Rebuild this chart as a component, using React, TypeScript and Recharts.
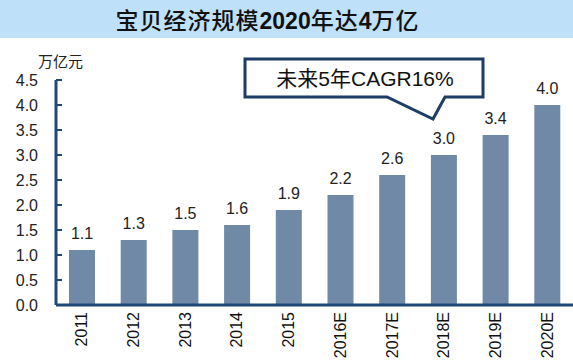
import { BarChart, Bar, XAxis, YAxis, LabelList } from "recharts";

const years = ["2011", "2012", "2013", "2014", "2015", "2016E", "2017E", "2018E", "2019E", "2020E"];
const scale = [1.1, 1.3, 1.5, 1.6, 1.9, 2.2, 2.6, 3.0, 3.4, 4.0];
const yTicks = [0, 0.5, 1, 1.5, 2, 2.5, 3, 3.5, 4, 4.5];

const data = years.map((y, i) => ({ name: y, value: scale[i] }));

const AXIS = "#1f4a78";
const FONT = "Arial, 'Liberation Sans', 'Noto Sans CJK SC', sans-serif";

const YTick = ({ x, y, payload }: any) => (
  <g>
    <line x1={x} x2={x + 6} y1={y} y2={y} stroke={AXIS} strokeWidth={2} />
    <text x={x - 18} y={y} dy={6} textAnchor="end" fontSize={16} fill="#222" fontFamily={FONT}>
      {payload.value.toFixed(1)}
    </text>
  </g>
);

const XTick = ({ x, y, payload }: any) => {
  const ty = y + 7;
  return (
    <text
      x={x}
      y={ty}
      transform={`rotate(-90 ${x} ${ty})`}
      textAnchor="end"
      dominantBaseline="central"
      fontSize={16}
      fill="#111"
      fontFamily={FONT}
    >
      {payload.value}
    </text>
  );
};

export default function App() {
  return (
    <div style={{ position: "absolute", left: 0, top: 0, width: 573, height: 362, background: "#fff", overflow: "hidden" }}>
      <div
        style={{
          position: "absolute",
          left: 0,
          top: 0,
          width: 535,
          height: 38,
          background: "#bee0f8",
          textAlign: "center",
          lineHeight: "38px",
          fontSize: 23,
          fontWeight: 500,
          fontFamily: "'Noto Sans CJK SC', sans-serif",
          color: "#111",
          letterSpacing: 1,
          paddingRight: 38,
        }}
      >
        宝贝经济规模<b style={{ fontFamily: "Arial, 'Liberation Sans', sans-serif", letterSpacing: 0 }}>2020</b>年达
        <b style={{ fontFamily: "Arial, 'Liberation Sans', sans-serif", letterSpacing: 0 }}>4</b>万亿
      </div>
      <div
        style={{
          position: "absolute",
          left: 38,
          top: 50,
          fontSize: 15,
          color: "#222",
          fontFamily: "'Noto Sans CJK SC', sans-serif",
        }}
      >
        万亿元
      </div>
      <BarChart
        width={573}
        height={362}
        data={data}
        margin={{ top: 80, right: 0, bottom: 0, left: 0 }}
        style={{ position: "absolute", left: 0, top: 0 }}
      >
        <YAxis
          type="number"
          domain={[0, 4.5]}
          ticks={yTicks}
          width={56}
          tickSize={0}
          tickMargin={0}
          tickLine={false}
          axisLine={{ stroke: AXIS, strokeWidth: 3 }}
          tick={<YTick />}
          interval={0}
        />
        <XAxis
          dataKey="name"
          height={57}
          tickLine={false}
          tickSize={0}
          tickMargin={0}
          axisLine={{ stroke: AXIS, strokeWidth: 3 }}
          tick={<XTick />}
          interval={0}
        />
        <Bar dataKey="value" fill="#7089a6" barSize={26} isAnimationActive={false}>
          <LabelList
            dataKey="value"
            position="top"
            offset={11}
            fontSize={16}
            fill="#222"
            fontFamily={FONT}
            formatter={(v: any) => Number(v).toFixed(1)}
          />
        </Bar>
      </BarChart>
      <svg width={573} height={362} style={{ position: "absolute", left: 0, top: 0, pointerEvents: "none" }}>
        <path
          d="M245,59 L483,59 L483,97 L445,97 L433,119 L387,97 L245,97 Z"
          fill="#fff"
          stroke="#1b3d66"
          strokeWidth={3}
          strokeLinejoin="miter"
        />
        <text x={365} y={86} textAnchor="middle" fontSize={21} fill="#111" fontFamily={FONT}>
          未来5年CAGR16%
        </text>
      </svg>
    </div>
  );
}
